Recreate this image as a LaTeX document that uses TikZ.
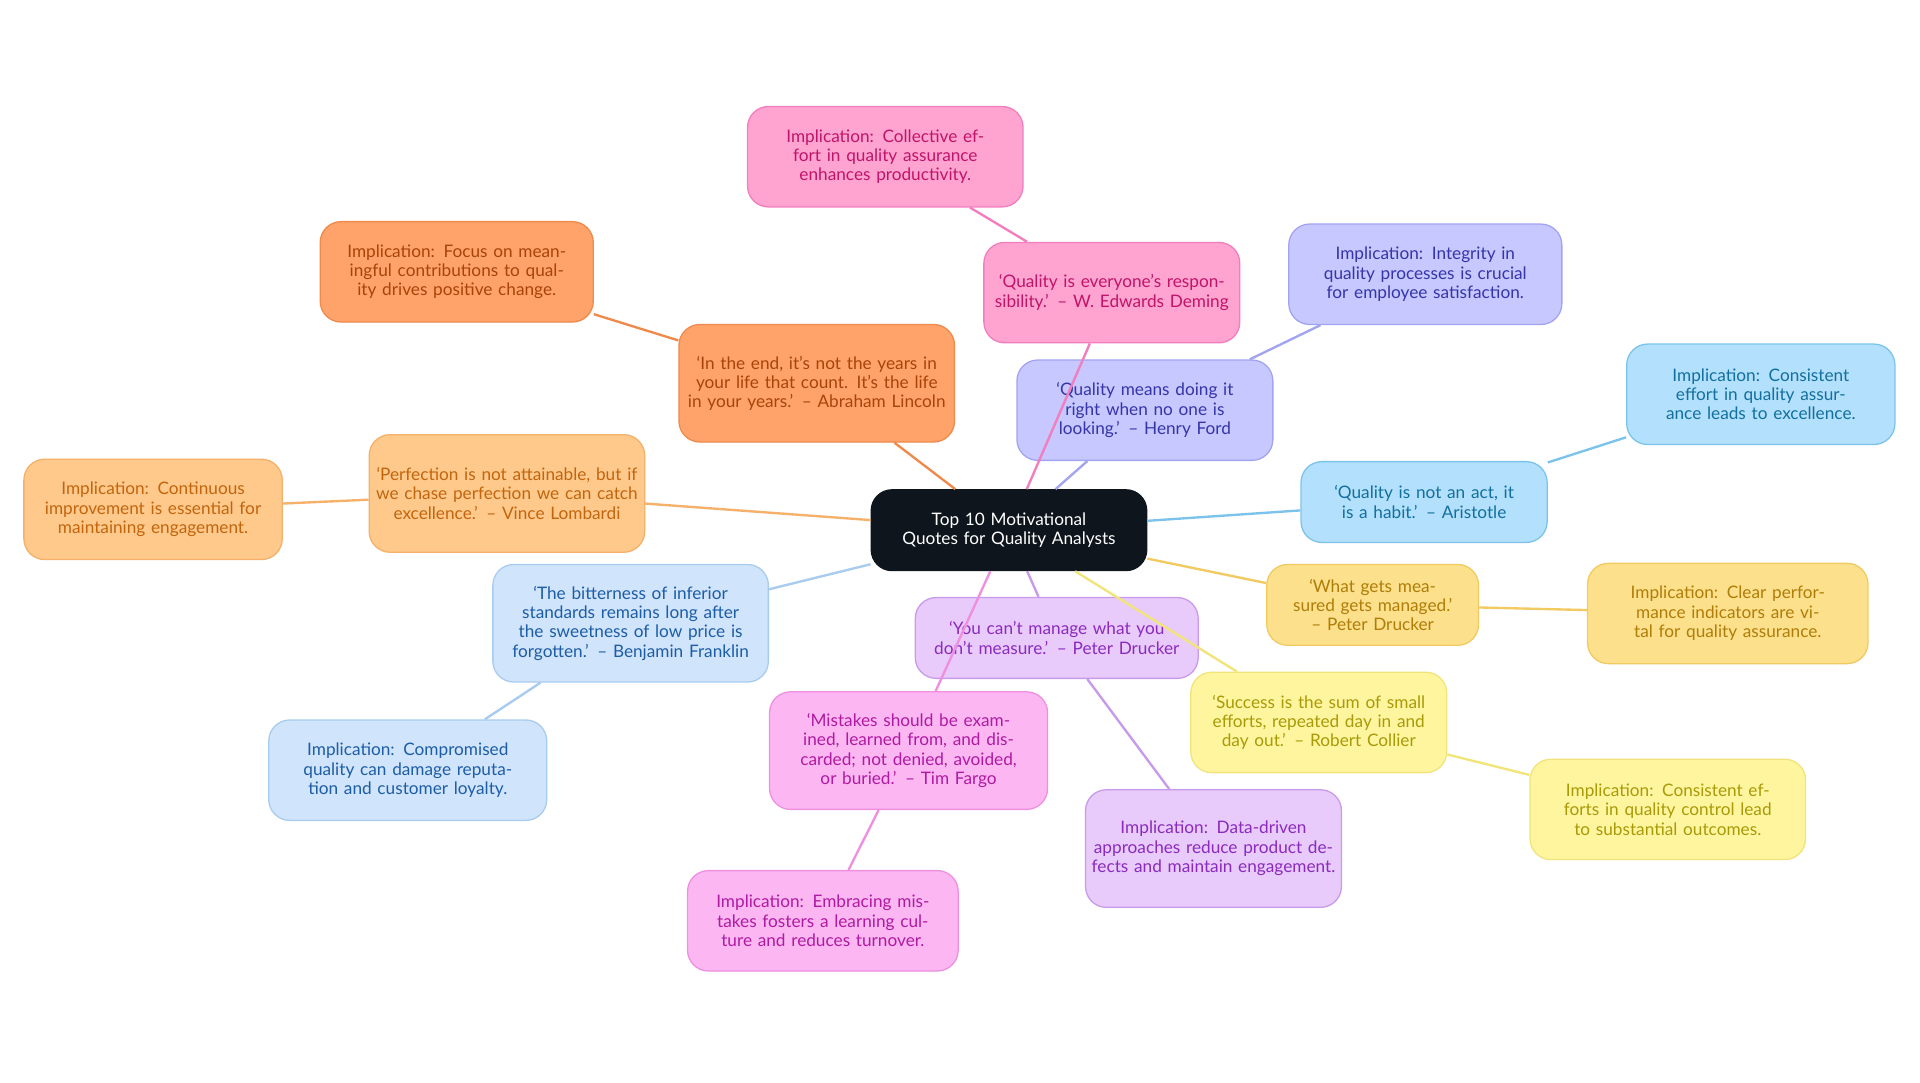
\documentclass[tikz,border=0pt]{standalone}
\usepackage{fontspec}
\setmainfont{Lato}
\usepackage{tikz}

\definecolor{pkF}{HTML}{FFA3D0}\definecolor{pkD}{HTML}{F27EBE}\definecolor{pkT}{HTML}{C0146A}
\definecolor{orF}{HTML}{FFA36A}\definecolor{orD}{HTML}{EE8A4C}\definecolor{orT}{HTML}{A8440A}
\definecolor{puF}{HTML}{C6C8FF}\definecolor{puD}{HTML}{A2A4F0}\definecolor{puT}{HTML}{3535A8}
\definecolor{blF}{HTML}{B3E0FC}\definecolor{blD}{HTML}{7CC3EC}\definecolor{blT}{HTML}{12709F}
\definecolor{loF}{HTML}{FFC98C}\definecolor{loD}{HTML}{F5B06A}\definecolor{loT}{HTML}{C2650D}
\definecolor{lbF}{HTML}{D0E4FB}\definecolor{lbD}{HTML}{A8CBF0}\definecolor{lbT}{HTML}{1D5DA6}
\definecolor{yoF}{HTML}{FCE08B}\definecolor{yoD}{HTML}{F2CA62}\definecolor{yoT}{HTML}{B07D08}
\definecolor{laF}{HTML}{E8CAFB}\definecolor{laD}{HTML}{C89BEA}\definecolor{laT}{HTML}{8A2BBE}
\definecolor{mgF}{HTML}{FCB7F3}\definecolor{mgD}{HTML}{EE8FE0}\definecolor{mgT}{HTML}{B01AA0}
\definecolor{yeF}{HTML}{FFF59E}\definecolor{yeD}{HTML}{F0E47A}\definecolor{yeT}{HTML}{A89A08}
\definecolor{rootF}{HTML}{0E151C}

\tikzset{
  bubble/.style n args={4}{draw=#2,fill=#1,text=#3,rounded corners=0.34cm,line width=0.6pt,
    align=center,font=\fontsize{8}{9}\selectfont,text width=#4*0.02cm-0.5cm,inner sep=0.1cm},
  wire/.style={line width=1.1pt,draw=#1}
}

\begin{document}
\begin{tikzpicture}[x=0.02cm,y=0.02cm]
\useasboundingbox (0,0) rectangle (1568,-884);

% root
\node[bubble={rootF}{rootF}{white}{240},minimum height=1.32cm] (root) at (824,-433)
  {Top 10 Motivational Quotes for Quality Analysts};

% quotes
\node[bubble={pkF}{pkD}{pkT}{224},minimum height=1.64cm] (deming) at (908,-239)
  {`Quality is everyone's responsibility.' -- W. Edwards Deming};
\node[bubble={orF}{orD}{orT}{240},minimum height=1.92cm] (lincoln) at (667,-313)
  {`In the end, it's not the years in your life that count. It's the life in your years.' -- Abraham Lincoln};
\node[bubble={puF}{puD}{puT}{224},minimum height=1.64cm] (ford) at (935,-335)
  {`Quality means doing it right when no one is looking.' -- Henry Ford};
\node[bubble={blF}{blD}{blT}{216},minimum height=1.32cm] (aristotle) at (1163,-410)
  {`Quality is not an act, it is a habit.' -- Aristotle};
\node[bubble={loF}{loD}{loT}{240},minimum height=1.92cm] (lombardi) at (414,-403)
  {`Perfection is not attainable, but if we chase perfection we can catch excellence.' -- Vince Lombardi};
\node[bubble={lbF}{lbD}{lbT}{240},minimum height=1.92cm] (franklin) at (515,-509)
  {`The bitterness of inferior standards remains long after the sweetness of low price is forgotten.' -- Benjamin Franklin};
\node[bubble={yoF}{yoD}{yoT}{188},minimum height=1.32cm] (measured) at (1121,-494)
  {`What gets measured gets managed.' -- Peter Drucker};
\node[bubble={laF}{laD}{laT}{246},minimum height=1.32cm] (manage) at (863,-521)
  {`You can't manage what you don't measure.' -- Peter Drucker};
\node[bubble={mgF}{mgD}{mgT}{242},minimum height=1.92cm] (fargo) at (742,-613)
  {`Mistakes should be examined, learned from, and discarded; not denied, avoided, or buried.' -- Tim Fargo};
\node[bubble={yeF}{yeD}{yeT}{224},minimum height=1.64cm] (collier) at (1077,-590)
  {`Success is the sum of small efforts, repeated day in and day out.' -- Robert Collier};

% implications
\node[bubble={pkF}{pkD}{pkT}{240},minimum height=1.64cm] (impDeming) at (723,-128)
  {Implication: Collective effort in quality assurance enhances productivity.};
\node[bubble={orF}{orD}{orT}{238},minimum height=1.64cm] (impLincoln) at (373,-222)
  {Implication: Focus on meaningful contributions to quality drives positive change.};
\node[bubble={puF}{puD}{puT}{238},minimum height=1.64cm] (impFord) at (1164,-224)
  {Implication: Integrity in quality processes is crucial for employee satisfaction.};
\node[bubble={blF}{blD}{blT}{234},minimum height=1.64cm] (impAristotle) at (1438,-322)
  {Implication: Consistent effort in quality assurance leads to excellence.};
\node[bubble={loF}{loD}{loT}{226},minimum height=1.64cm] (impLombardi) at (125,-416)
  {Implication: Continuous improvement is essential for maintaining engagement.};
\node[bubble={lbF}{lbD}{lbT}{242},minimum height=1.64cm] (impFranklin) at (333,-629)
  {Implication: Compromised quality can damage reputation and customer loyalty.};
\node[bubble={yoF}{yoD}{yoT}{244},minimum height=1.64cm] (impMeasured) at (1411,-501)
  {Implication: Clear performance indicators are vital for quality assurance.};
\node[bubble={laF}{laD}{laT}{224},minimum height=1.92cm] (impManage) at (991,-693)
  {Implication: Data-driven approaches reduce product defects and maintain engagement.};
\node[bubble={mgF}{mgD}{mgT}{236},minimum height=1.64cm] (impFargo) at (672,-752)
  {Implication: Embracing mistakes fosters a learning culture and reduces turnover.};
\node[bubble={yeF}{yeD}{yeT}{240},minimum height=1.64cm] (impCollier) at (1362,-661)
  {Implication: Consistent efforts in quality control lead to substantial outcomes.};

% connectors
\draw[wire=pkD] (root) -- (deming);   \draw[wire=pkD] (deming) -- (impDeming);
\draw[wire=orD] (root) -- (lincoln);  \draw[wire=orD] (lincoln) -- (impLincoln);
\draw[wire=puD] (root) -- (ford);     \draw[wire=puD] (ford) -- (impFord);
\draw[wire=blD] (root) -- (aristotle);\draw[wire=blD] (aristotle) -- (impAristotle);
\draw[wire=loD] (root) -- (lombardi); \draw[wire=loD] (lombardi) -- (impLombardi);
\draw[wire=lbD] (root) -- (franklin); \draw[wire=lbD] (franklin) -- (impFranklin);
\draw[wire=yoD] (root) -- (measured); \draw[wire=yoD] (measured) -- (impMeasured);
\draw[wire=laD] (root) -- (manage);   \draw[wire=laD] (manage) -- (impManage);
\draw[wire=mgD] (root) -- (fargo);    \draw[wire=mgD] (fargo) -- (impFargo);
\draw[wire=yeD] (root) -- (collier);  \draw[wire=yeD] (collier) -- (impCollier);
\end{tikzpicture}
\end{document}
